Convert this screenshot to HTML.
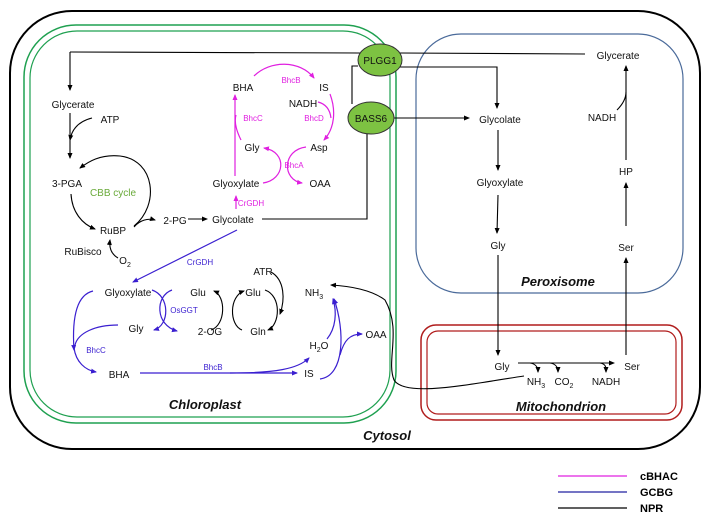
<!DOCTYPE html>
<html><head><meta charset="utf-8"><style>
html,body{margin:0;padding:0;background:#fff;}
svg{display:block;}
text{font-family:"Liberation Sans",Arial,sans-serif;}
.t{font-size:10px;fill:#111;}
.e{font-size:8px;}
.m{fill:#e020e0;}
.b{fill:#3a1fd0;}
.k{stroke:#000;fill:none;stroke-width:1.1;}
.pm{stroke:#e020e0;fill:none;stroke-width:1.2;}
.pb{stroke:#3a1fd0;fill:none;stroke-width:1.2;}
.lab{font-size:13px;font-weight:bold;font-style:italic;fill:#111;}
</style></head><body>
<svg width="707" height="528" viewBox="0 0 707 528" xmlns="http://www.w3.org/2000/svg">
<defs>
<marker id="ak" markerWidth="6" markerHeight="6" refX="5" refY="3" orient="auto" markerUnits="userSpaceOnUse"><path d="M0,0.5 L6,3 L0,5.5z" fill="#000"/></marker>
<marker id="am" markerWidth="6" markerHeight="6" refX="5" refY="3" orient="auto" markerUnits="userSpaceOnUse"><path d="M0,0.5 L6,3 L0,5.5z" fill="#e020e0"/></marker>
<marker id="ab" markerWidth="6" markerHeight="6" refX="5" refY="3" orient="auto" markerUnits="userSpaceOnUse"><path d="M0,0.5 L6,3 L0,5.5z" fill="#3a1fd0"/></marker>
</defs>
<!-- compartments -->
<rect x="10" y="11" width="690" height="438" rx="62" fill="none" stroke="#000" stroke-width="2"/>
<rect x="24" y="25" width="372" height="398" rx="52" fill="none" stroke="#1fa050" stroke-width="1.5"/>
<rect x="30" y="31" width="360" height="386" rx="47" fill="none" stroke="#1fa050" stroke-width="1.2"/>
<rect x="416" y="34" width="267" height="259" rx="45" fill="none" stroke="#4a6a9a" stroke-width="1.2"/>
<rect x="421" y="325" width="261" height="95" rx="15" fill="none" stroke="#b01c1c" stroke-width="1.5"/>
<rect x="427" y="331" width="249" height="83" rx="11" fill="none" stroke="#b01c1c" stroke-width="1.2"/>

<!-- transport lines -->
<path class="k" d="M70,52 L360,53"/>
<path class="k" d="M400,53 L585,54"/>
<path class="k" d="M70,52 L70,90" marker-end="url(#ak)"/>
<path class="k" d="M390,67 L497,67 L497,108" marker-end="url(#ak)"/>
<path class="k" d="M358,66 L352,66 L352,104"/>
<path class="k" d="M392,118 L469,118" marker-end="url(#ak)"/>
<path class="k" d="M367,130 L367,219 L262,219"/>
<ellipse cx="380" cy="60" rx="22" ry="16" fill="#7dc242" stroke="#333" stroke-width="1"/>
<text x="380" y="64" text-anchor="middle" class="t">PLGG1</text>
<ellipse cx="371" cy="118" rx="23" ry="16" fill="#7dc242" stroke="#333" stroke-width="1"/>
<text x="371" y="122" text-anchor="middle" class="t">BASS6</text>

<!-- chloroplast NPR -->
<text x="73" y="108" text-anchor="middle" class="t">Glycerate</text>
<text x="110" y="123" text-anchor="middle" class="t">ATP</text>
<path class="k" d="M70,113 L70,158" marker-end="url(#ak)"/>
<path class="k" d="M92,118 C80,121 72,128 70,140" marker-end="url(#ak)"/>
<text x="67" y="187" text-anchor="middle" class="t">3-PGA</text>
<text x="113" y="196" text-anchor="middle" style="font-size:10px;fill:#6aaa3a">CBB cycle</text>
<text x="113" y="234" text-anchor="middle" class="t">RuBP</text>
<text x="83" y="255" text-anchor="middle" class="t">RuBisco</text>
<text x="125" y="264" text-anchor="middle" class="t">O<tspan font-size="7" dy="3">2</tspan></text>
<path class="k" d="M71,194 C72,212 82,224 95,229" marker-end="url(#ak)"/>
<path class="k" d="M134,226 C160,205 155,160 120,156 C100,154 88,162 80,168" marker-end="url(#ak)"/>
<path class="k" d="M134,227 C140,220 148,218 155,220" marker-end="url(#ak)"/>
<text x="175" y="224" text-anchor="middle" class="t">2-PG</text>
<path class="k" d="M188,219 L207,219" marker-end="url(#ak)"/>
<text x="233" y="223" text-anchor="middle" class="t">Glycolate</text>
<path class="k" d="M118,258 C111,254 109,248 110,240" marker-end="url(#ak)"/>

<!-- magenta cBHAC -->
<text x="243" y="91" text-anchor="middle" class="t">BHA</text>
<text x="324" y="91" text-anchor="middle" class="t">IS</text>
<text x="303" y="107" text-anchor="middle" class="t">NADH</text>
<text x="291" y="83" text-anchor="middle" class="e m">BhcB</text>
<text x="253" y="121" text-anchor="middle" class="e m">BhcC</text>
<text x="314" y="121" text-anchor="middle" class="e m">BhcD</text>
<text x="252" y="151" text-anchor="middle" class="t">Gly</text>
<text x="319" y="151" text-anchor="middle" class="t">Asp</text>
<text x="294" y="168" text-anchor="middle" class="e m">BhcA</text>
<text x="236" y="187" text-anchor="middle" class="t">Glyoxylate</text>
<text x="320" y="187" text-anchor="middle" class="t">OAA</text>
<text x="251" y="206" text-anchor="middle" class="e m">CrGDH</text>
<path class="pm" d="M236,209 L236,196" marker-end="url(#am)"/>
<path class="pm" d="M235,176 L235,95" marker-end="url(#am)"/>
<path class="pm" d="M241,140 C236,130 234,122 236,115"/>
<path class="pm" d="M254,76 C270,60 300,60 314,78" marker-end="url(#am)"/>
<path class="pm" d="M330,94 C336,110 335,128 324,140" marker-end="url(#am)"/>
<path class="pm" d="M318,102 C326,104 330,110 331,118"/>
<path class="pm" d="M263,183 C285,180 288,152 264,148" marker-end="url(#am)"/>
<path class="pm" d="M306,147 C282,150 282,180 302,183" marker-end="url(#am)"/>

<!-- blue GCBG -->
<path class="pb" d="M237,230 L133,282" marker-end="url(#ab)"/>
<text x="200" y="265" text-anchor="middle" class="e b">CrGDH</text>
<text x="128" y="296" text-anchor="middle" class="t">Glyoxylate</text>
<text x="198" y="296" text-anchor="middle" class="t">Glu</text>
<text x="253" y="296" text-anchor="middle" class="t">Glu</text>
<text x="263" y="275" text-anchor="middle" class="t">ATR</text>
<text x="314" y="296" class="t" text-anchor="middle">NH<tspan font-size="7" dy="3">3</tspan></text>
<text x="184" y="313" text-anchor="middle" class="e b">OsGGT</text>
<text x="136" y="332" text-anchor="middle" class="t">Gly</text>
<text x="210" y="335" text-anchor="middle" class="t">2-OG</text>
<text x="258" y="335" text-anchor="middle" class="t">Gln</text>
<text x="319" y="349" text-anchor="middle" class="t">H<tspan font-size="7" dy="3">2</tspan><tspan dy="-3">O</tspan></text>
<text x="376" y="338" text-anchor="middle" class="t">OAA</text>
<text x="96" y="353" text-anchor="middle" class="e b">BhcC</text>
<text x="119" y="378" text-anchor="middle" class="t">BHA</text>
<text x="213" y="370" text-anchor="middle" class="e b">BhcB</text>
<text x="309" y="377" text-anchor="middle" class="t">IS</text>
<path class="pb" d="M93,291 C76,295 72,320 74,350" marker-end="url(#ab)"/>
<path class="pb" d="M74,348 C76,362 85,370 96,372" marker-end="url(#ab)"/>
<path class="pb" d="M118,325 C95,325 78,333 75,345"/>
<path class="pb" d="M152,290 C170,296 170,325 154,330" marker-end="url(#ab)"/>
<path class="pb" d="M172,290 C155,296 155,325 177,331" marker-end="url(#ab)"/>
<path class="k" d="M211,330 C226,325 226,296 214,291" marker-end="url(#ak)"/>
<path class="k" d="M242,330 C229,325 229,296 244,291" marker-end="url(#ak)"/>
<path class="k" d="M265,290 C282,296 280,325 268,330" marker-end="url(#ak)"/>
<path class="k" d="M271,272 C285,280 285,300 280,314" marker-end="url(#ak)"/>
<path class="pb" d="M140,373 L297,373" marker-end="url(#ab)"/>
<path class="pb" d="M230,373 C275,373 298,369 309,358" marker-end="url(#ab)"/>
<path class="pb" d="M327,339 C336,328 337,312 333,299" marker-end="url(#ab)"/>
<path class="pb" d="M320,379 C345,376 345,330 334,299" marker-end="url(#ab)"/>
<path class="pb" d="M340,355 C344,340 350,334 362,334" marker-end="url(#ab)"/>
<text x="205" y="409" text-anchor="middle" class="lab">Chloroplast</text>

<!-- NH3 loop -->
<path class="k" d="M524,376 C470,384 405,398 394,380 C386,360 402,330 385,300 C372,290 350,286 331,285" marker-end="url(#ak)"/>

<!-- peroxisome -->
<text x="618" y="59" text-anchor="middle" class="t">Glycerate</text>
<text x="602" y="121" text-anchor="middle" class="t">NADH</text>
<text x="626" y="175" text-anchor="middle" class="t">HP</text>
<text x="626" y="251" text-anchor="middle" class="t">Ser</text>
<text x="500" y="123" text-anchor="middle" class="t">Glycolate</text>
<text x="500" y="186" text-anchor="middle" class="t">Glyoxylate</text>
<text x="498" y="249" text-anchor="middle" class="t">Gly</text>
<text x="558" y="286" text-anchor="middle" class="lab">Peroxisome</text>
<path class="k" d="M498,130 L498,170" marker-end="url(#ak)"/>
<path class="k" d="M498,195 L497,233" marker-end="url(#ak)"/>
<path class="k" d="M498,255 L498,355" marker-end="url(#ak)"/>
<path class="k" d="M626,355 L626,258" marker-end="url(#ak)"/>
<path class="k" d="M626,226 L626,183" marker-end="url(#ak)"/>
<path class="k" d="M626,160 L626,66" marker-end="url(#ak)"/>
<path class="k" d="M617,110 C623,104 626,98 626,92"/>

<!-- mitochondrion -->
<text x="502" y="370" text-anchor="middle" class="t">Gly</text>
<text x="632" y="370" text-anchor="middle" class="t">Ser</text>
<text x="536" y="385" text-anchor="middle" class="t">NH<tspan font-size="7" dy="3">3</tspan></text>
<text x="564" y="385" text-anchor="middle" class="t">CO<tspan font-size="7" dy="3">2</tspan></text>
<text x="606" y="385" text-anchor="middle" class="t">NADH</text>
<path class="k" d="M518,363 L614,363" marker-end="url(#ak)"/>
<path class="k" d="M530,363 C536,364 538,367 538,372" marker-end="url(#ak)"/>
<path class="k" d="M550,363 C556,364 558,367 558,372" marker-end="url(#ak)"/>
<path class="k" d="M600,363 C606,364 606,367 606,372" marker-end="url(#ak)"/>
<text x="561" y="411" text-anchor="middle" class="lab">Mitochondrion</text>

<text x="387" y="440" text-anchor="middle" class="lab">Cytosol</text>

<!-- legend -->
<line x1="558" y1="476" x2="627" y2="476" stroke="#e020e0" stroke-width="1.2"/>
<line x1="558" y1="492" x2="627" y2="492" stroke="#2020a0" stroke-width="1.2"/>
<line x1="558" y1="508" x2="627" y2="508" stroke="#000" stroke-width="1.2"/>
<text x="640" y="480" style="font-size:11px;font-weight:bold">cBHAC</text>
<text x="640" y="496" style="font-size:11px;font-weight:bold">GCBG</text>
<text x="640" y="512" style="font-size:11px;font-weight:bold">NPR</text>
</svg>
</body></html>
